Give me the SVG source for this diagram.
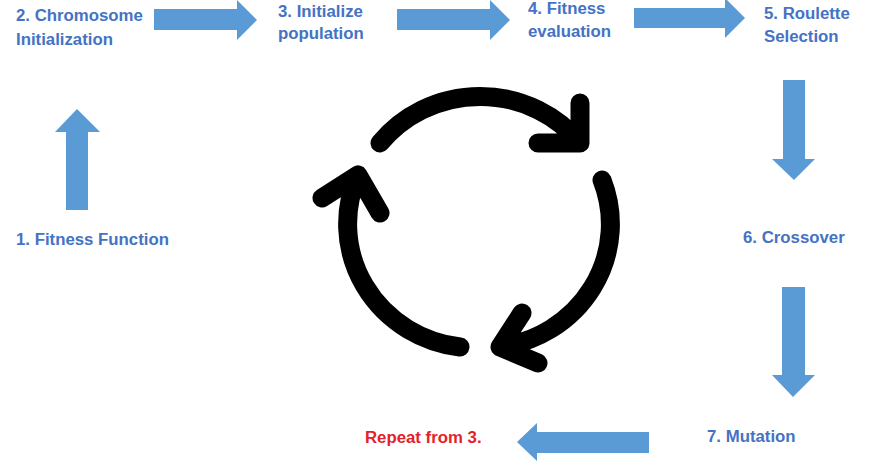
<svg xmlns="http://www.w3.org/2000/svg" width="870" height="462" viewBox="0 0 870 462">
<style>
.lbl{font-family:"Liberation Sans",Arial,sans-serif;font-weight:bold;font-size:16.8px;fill:#4472C4}
.red{fill:#E3222B}
.arr{fill:#5B9BD5}
.cyc{fill:none;stroke:#000;stroke-width:19;stroke-linecap:round;stroke-linejoin:round}
</style>
<rect width="870" height="462" fill="#fff"/>
<g id="connectors">
<polygon class="arr" points="154,9 237,9 237,0 257,20 237,40 237,30 154,30"/>
<polygon class="arr" points="397,9 490,9 490,0 510,20 490,40 490,30 397,30"/>
<polygon class="arr" points="634,8 725,8 725,-2 745,18 725,38 725,28 634,28"/>
<polygon class="arr" points="783,80 805,80 805,159 815,159 794,180 772,159 783,159"/>
<polygon class="arr" points="782,287 805,287 805,375 815,375 793,397 772,375 782,375"/>
<polygon class="arr" points="649,432 537,432 537,423 517,442 537,461 537,453 649,453"/>
<polygon class="arr" points="66,210 66,132 55,132 77,109 100,132 88,132 88,210"/>
</g>
<g id="cycle">
<path class="cyc" d="M380,143 A128 124 0 0 1 580,143 M580,103 L580,143 L538,143"/>
<path class="cyc" d="M602,180 A128 124 0 0 1 500,347 M522,313 L500,347 L538,363"/>
<path class="cyc" d="M460,347 A128 124 0 0 1 358,175 M380,213 L358,175 L322,198"/>
</g>
<g id="n1"><text class="lbl" x="16" y="245">1. Fitness Function</text></g>
<g id="n2"><text class="lbl" x="16" y="21">2. Chromosome</text><text class="lbl" x="16" y="45">Initialization</text></g>
<g id="n3"><text class="lbl" x="278" y="17">3. Initialize</text><text class="lbl" x="278" y="39">population</text></g>
<g id="n4"><text class="lbl" x="528" y="14">4. Fitness</text><text class="lbl" x="528" y="37">evaluation</text></g>
<g id="n5"><text class="lbl" x="764" y="19">5. Roulette</text><text class="lbl" x="764" y="42">Selection</text></g>
<g id="n6"><text class="lbl" x="743" y="243">6. Crossover</text></g>
<g id="n7"><text class="lbl" x="707" y="442">7. Mutation</text></g>
<g id="repeat"><text class="lbl red" x="365" y="443">Repeat from 3.</text></g>
</svg>
